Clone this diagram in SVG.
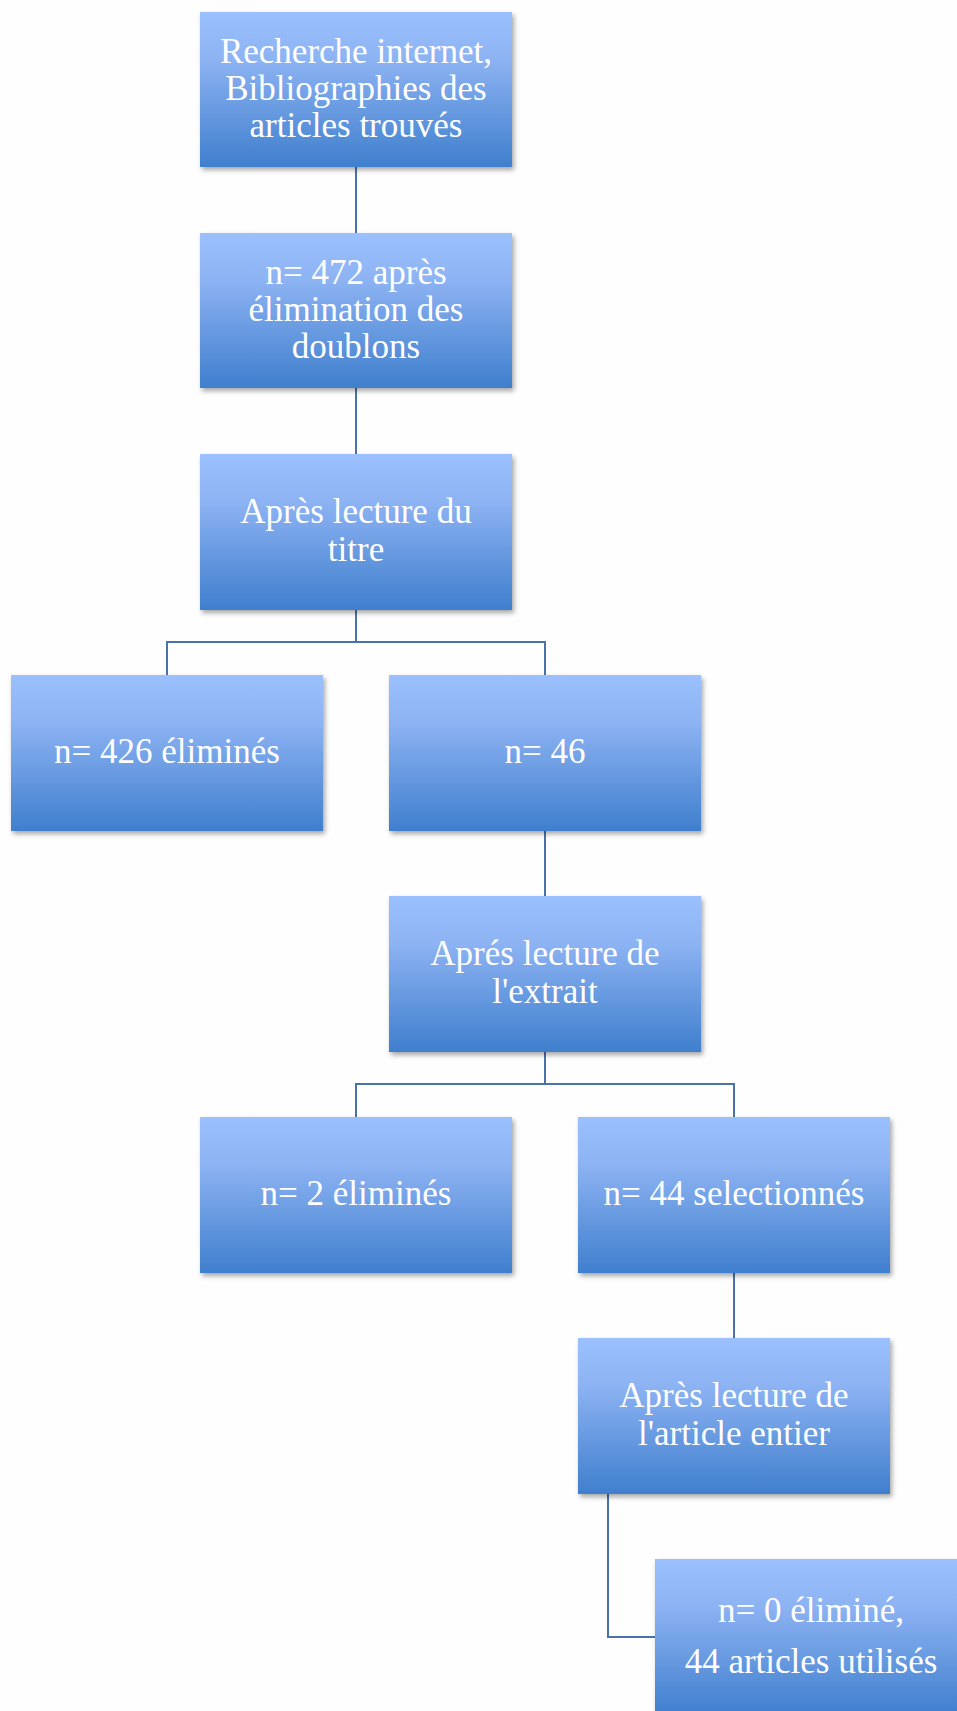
<svg xmlns="http://www.w3.org/2000/svg" width="957" height="1711" viewBox="0 0 957 1711">
<defs>
<linearGradient id="g" x1="0" y1="0" x2="0" y2="1">
<stop offset="0" stop-color="#9bc0fd"/>
<stop offset="0.3" stop-color="#8db3f3"/>
<stop offset="1" stop-color="#3f7fcd"/>
</linearGradient>
<filter id="sh" x="-10%" y="-10%" width="125%" height="130%">
<feDropShadow dx="2" dy="3" stdDeviation="2.5" flood-color="#000" flood-opacity="0.35"/>
</filter>
<style>
.box{fill:url(#g);filter:url(#sh)}
.t{font-family:"Liberation Serif","Times New Roman",serif;font-size:35px;fill:#fff;text-anchor:middle}
.c{fill:none;stroke:#4a72aa;stroke-width:2}
</style>
</defs>
<rect width="957" height="1711" fill="#fefefe"/>
<g id="connectors">
<path class="c" d="M356 167V233"/>
<path class="c" d="M356 388V454"/>
<path class="c" d="M356 610V642M167 675V642H545V675"/>
<path class="c" d="M545 831V896"/>
<path class="c" d="M545 1052V1084M356 1117V1084H734V1117"/>
<path class="c" d="M734 1273V1338"/>
<path class="c" d="M608 1494V1637H655"/>
</g>
<g id="n1"><rect class="box" x="200" y="12" width="312" height="155"/>
<text class="t" x="356" y="63">Recherche internet,</text>
<text class="t" x="356" y="100">Bibliographies des</text>
<text class="t" x="356" y="137">articles trouvés</text></g>
<g id="n2"><rect class="box" x="200" y="233" width="312" height="155"/>
<text class="t" x="356" y="284">n= 472 après</text>
<text class="t" x="356" y="321">élimination des</text>
<text class="t" x="356" y="358">doublons</text></g>
<g id="n3"><rect class="box" x="200" y="454" width="312" height="156"/>
<text class="t" x="356" y="523">Après lecture du</text>
<text class="t" x="356" y="561">titre</text></g>
<g id="n4"><rect class="box" x="11" y="675" width="312" height="156"/>
<text class="t" x="167" y="763">n= 426 éliminés</text></g>
<g id="n5"><rect class="box" x="389" y="675" width="312" height="156"/>
<text class="t" x="545" y="763">n= 46</text></g>
<g id="n6"><rect class="box" x="389" y="896" width="312" height="156"/>
<text class="t" x="545" y="965">Aprés lecture de</text>
<text class="t" x="545" y="1003">l'extrait</text></g>
<g id="n7"><rect class="box" x="200" y="1117" width="312" height="156"/>
<text class="t" x="356" y="1205">n= 2 éliminés</text></g>
<g id="n8"><rect class="box" x="578" y="1117" width="312" height="156"/>
<text class="t" x="734" y="1205">n= 44 selectionnés</text></g>
<g id="n9"><rect class="box" x="578" y="1338" width="312" height="156"/>
<text class="t" x="734" y="1407">Après lecture de</text>
<text class="t" x="734" y="1445">l'article entier</text></g>
<g id="n10"><rect class="box" x="655" y="1559" width="312" height="156"/>
<text class="t" x="811" y="1622">n= 0 éliminé,</text>
<text class="t" x="811" y="1673">44 articles utilisés</text></g>
</svg>
